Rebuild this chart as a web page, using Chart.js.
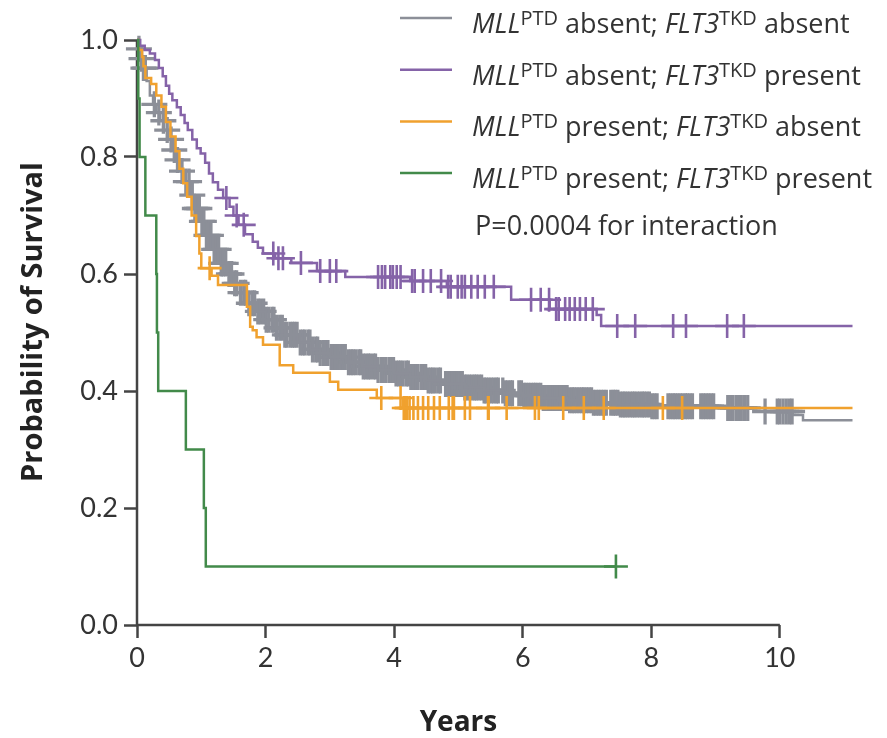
<!DOCTYPE html>
<html>
<head>
<meta charset="utf-8">
<script src="https://cdn.jsdelivr.net/npm/chart.js@4.4.1/dist/chart.umd.min.js"></script>
<style>
html,body{margin:0;padding:0;background:#fff}
#wrap{position:relative;width:887px;height:738px}
</style>
</head>
<body>
<div id="wrap"><canvas id="km" width="887" height="738"></canvas></div>
<script>
// Kaplan-Meier steps: time (years) and survival after the event
const grayT = [0,0.02,0.05,0.1,0.15,0.2,0.25,0.3,0.36,0.42,0.48,0.54,0.6,0.67,0.74,0.82,0.9,0.98,1.08,1.18,1.3,1.4,1.5,1.6,1.73,1.87,2.0,2.15,2.3,2.5,2.7,2.85,3.0,3.25,3.5,3.75,4.0,4.25,4.5,4.8,5.1,5.4,5.7,6.0,6.3,6.7,7.1,7.5,8.0,9.0,9.77,10.2,10.36,11.13];
const grayS = [1.0,0.985,0.968,0.952,0.93,0.905,0.89,0.876,0.862,0.846,0.83,0.812,0.795,0.776,0.758,0.735,0.712,0.69,0.666,0.642,0.618,0.60,0.584,0.568,0.55,0.536,0.522,0.508,0.496,0.483,0.471,0.465,0.458,0.449,0.442,0.436,0.43,0.424,0.418,0.412,0.406,0.401,0.396,0.392,0.388,0.384,0.38,0.377,0.374,0.371,0.365,0.359,0.35,0.35];
const grayCensor = [0.03,0.07,0.1,0.13,0.27,0.34,0.41,0.47,0.53,0.58,0.63,0.7,0.76,0.81,0.86,0.9,0.93,0.97,1.01,1.04,1.08,1.11,1.15,1.2,1.23,1.27,1.31,1.34,1.38,1.43,1.47,1.52,1.55,1.61,1.66,1.69,1.74,1.79,1.83,1.88,1.92,1.97,2.01,2.05,2.1,2.13,2.17,2.22,2.26,2.3,2.33,2.38,2.42,2.45,2.49,2.54,2.58,2.61,2.66,2.69,2.73,2.78,2.81,2.85,2.9,2.93,2.97,3.02,3.05,3.09,3.13,3.17,3.2,3.24,3.29,3.33,3.36,3.4,3.45,3.48,3.52,3.56,3.6,3.63,3.68,3.71,3.75,3.8,3.83,3.87,3.92,3.95,3.99,4.03,4.07,4.1,4.14,4.19,4.22,4.26,4.3,4.34,4.37,4.42,4.45,4.49,4.53,4.57,4.6,4.64,4.69,4.72,4.8,4.83,4.87,4.91,4.95,4.98,5.02,5.06,5.1,5.13,5.17,5.21,5.25,5.28,5.32,5.36,5.4,5.43,5.47,5.51,5.55,5.59,5.62,5.69,5.73,5.77,5.81,5.84,5.94,5.98,6.02,6.05,6.09,6.13,6.17,6.2,6.24,6.28,6.32,6.35,6.39,6.43,6.47,6.5,6.54,6.58,6.62,6.65,6.69,6.73,6.77,6.8,6.84,6.88,6.92,6.95,6.99,7.03,7.07,7.1,7.14,7.18,7.22,7.26,7.3,7.37,7.41,7.44,7.48,7.52,7.56,7.59,7.63,7.67,7.71,7.74,7.78,7.82,7.86,7.89,7.93,7.97,8.01,8.05,8.09,8.26,8.3,8.34,8.37,8.41,8.45,8.49,8.53,8.56,8.6,8.64,8.77,8.81,8.85,8.89,8.93,8.97,9.19,9.23,9.27,9.32,9.36,9.4,9.45,9.5,9.77,9.96,10.0,10.05,10.1,10.15,10.19];

const purpleT = [0,0.05,0.12,0.2,0.28,0.34,0.4,0.45,0.5,0.55,0.62,0.68,0.74,0.79,0.86,0.93,0.99,1.06,1.12,1.18,1.26,1.34,1.44,1.5,1.58,1.68,1.8,1.88,1.96,2.15,2.4,2.8,3.24,4.25,4.82,5.82,6.42,7.15,7.22,11.13];
const purpleS = [1.0,0.99,0.983,0.977,0.966,0.952,0.938,0.922,0.908,0.897,0.885,0.872,0.858,0.846,0.83,0.815,0.806,0.79,0.772,0.757,0.744,0.73,0.715,0.70,0.684,0.668,0.655,0.645,0.635,0.627,0.619,0.605,0.595,0.588,0.578,0.556,0.540,0.530,0.511,0.511];
const purpleCensor = [1.39,1.55,1.66,2.12,2.2,2.27,2.55,2.85,3.0,3.1,3.75,3.81,3.86,3.94,3.98,4.04,4.1,4.28,4.32,4.45,4.57,4.73,4.84,4.88,4.99,5.05,5.1,5.2,5.3,5.41,5.55,6.13,6.28,6.41,6.52,6.56,6.66,6.73,6.81,6.89,6.98,7.09,7.47,7.75,8.34,8.54,9.18,9.44];

const orangeT = [0,0.03,0.08,0.1,0.13,0.22,0.3,0.38,0.45,0.52,0.6,0.66,0.72,0.78,0.85,0.92,0.97,1.0,1.16,1.26,1.71,1.76,1.8,1.86,1.96,2.22,2.43,3.0,3.13,3.73,4.14,11.13];
const orangeS = [1.0,0.983,0.971,0.955,0.935,0.925,0.905,0.886,0.86,0.835,0.81,0.78,0.755,0.732,0.70,0.665,0.635,0.61,0.597,0.581,0.544,0.51,0.504,0.492,0.479,0.444,0.431,0.416,0.402,0.388,0.371,0.371];
const orangeCensor = [1.13,3.8,4.1,4.15,4.18,4.2,4.24,4.3,4.37,4.45,4.53,4.62,4.71,4.85,4.91,4.93,5.1,5.18,5.46,5.47,5.75,6.19,6.25,6.63,6.95,7.26,8.18,8.48];

const greenT = [0,0.02,0.04,0.13,0.30,0.31,0.33,0.76,1.04,1.07,7.45];
const greenS = [1.0,0.9,0.8,0.7,0.6,0.5,0.4,0.3,0.2,0.1,0.1];
const greenCensor = [7.45];

const xTicks = [0,2,4,6,8,10];
const yTicks = [0,0.2,0.4,0.6,0.8,1.0];

const legendRows = [
  ['MLL','PTD',' absent; ','FLT3','TKD',' absent'],
  ['MLL','PTD',' absent; ','FLT3','TKD',' present'],
  ['MLL','PTD',' present; ','FLT3','TKD',' absent'],
  ['MLL','PTD',' present; ','FLT3','TKD',' present']
];
const pNote = 'P=0.0004 for interaction';

const colors = ['rgb(140,143,152)','rgb(133,99,168)','rgb(240,161,46)','rgb(66,138,74)'];
const axisColor = '#444';
const textColor = '#333';
const fam = 'Lato, "Open Sans", sans-serif';
const famWide = '"Open Sans", Lato, sans-serif';

function steps(T,S){ return T.map((t,i)=>({x:t,y:S[i]})); }
function survAt(T,S,t){
  let v = S[0];
  for(let i=0;i<T.length;i++){ if(T[i]<=t) v=S[i]; else break; }
  return v;
}
function censor(T,S,C){ return C.map(t=>({x:t,y:survAt(T,S,t)})); }

function curve(data,color,order){
  return {data, borderColor:color, borderWidth:2.5, stepped:true, pointRadius:0, fill:false, clip:false, order};
}
function marks(data,color,order,r,w){
  return {data, showLine:false, pointStyle:'cross', pointRadius:r, pointBorderWidth:w,
    pointBorderColor:color, pointBackgroundColor:color, borderColor:color, clip:false, order};
}

const frame = {
  id:'frame',
  beforeDatasetsDraw(chart){
    const {ctx, scales:{x,y}} = chart;
    const x0 = x.getPixelForValue(0), y0 = y.getPixelForValue(0);
    ctx.save();
    ctx.strokeStyle = axisColor; ctx.lineWidth = 2.5;
    ctx.beginPath();
    ctx.moveTo(x0, y0); ctx.lineTo(x0, y.getPixelForValue(1));
    ctx.moveTo(x0-1, y0); ctx.lineTo(x.getPixelForValue(10), y0);
    ctx.stroke();
    ctx.fillStyle = '#222';
    ctx.font = 'bold 28px ' + famWide;
    ctx.textAlign = 'center'; ctx.textBaseline = 'middle';
    ctx.fillText('Years', (x0 + x.getPixelForValue(10))/2, 723);
    ctx.translate(34, 322); ctx.rotate(-Math.PI/2);
    ctx.font = 'bold 29px ' + famWide;
    ctx.fillText('Probability of Survival', 0, 0);
    ctx.restore();
  },
  afterDraw(chart){
    const ctx = chart.ctx;
    ctx.save();
    ctx.textAlign = 'left'; ctx.textBaseline = 'alphabetic';
    ctx.fillStyle = textColor;
    legendRows.forEach((row,i)=>{
      const base = 33 + i*51.7;
      ctx.strokeStyle = colors[i]; ctx.lineWidth = 2.5;
      ctx.beginPath(); ctx.moveTo(400, base-15); ctx.lineTo(452, base-15); ctx.stroke();
      let xp = 472;
      row.forEach((part,k)=>{
        let font = '27px ' + famWide, dy = 0;
        if(k===0 || k===3) font = 'italic 27px ' + famWide;
        if(k===1 || k===4){ font = '20px ' + famWide; dy = -8; }
        ctx.font = font;
        ctx.fillText(part, xp, base + dy);
        xp += ctx.measureText(part).width;
      });
    });
    ctx.font = '27px ' + famWide;
    ctx.fillText(pNote, 475, 235);
    ctx.restore();
  }
};

new Chart(document.getElementById('km'), {
  type:'line',
  data:{
    datasets:[
      curve(steps(grayT,grayS), colors[0], 4),
      marks(censor(grayT,grayS,grayCensor), colors[0], 4, 13, 3.3),
      curve(steps(purpleT,purpleS), colors[1], 1),
      marks(censor(purpleT,purpleS,purpleCensor), colors[1], 1, 12, 2.6),
      curve(steps(orangeT,orangeS), colors[2], 2),
      marks(censor(orangeT,orangeS,orangeCensor), colors[2], 2, 12, 2.6),
      curve(steps(greenT,greenS), colors[3], 0),
      marks(censor(greenT,greenS,greenCensor), colors[3], 0, 12, 2.6)
    ]
  },
  options:{
    responsive:false,
    animation:false,
    devicePixelRatio:1,
    layout:{padding:{top:40,right:30,left:0,bottom:0}},
    plugins:{legend:{display:false}, tooltip:{enabled:false}},
    scales:{
      x:{
        type:'linear', min:0, max:11.2,
        afterBuildTicks(s){ s.ticks = xTicks.map(v=>({value:v})); },
        afterFit(s){ s.height = 113; },
        border:{display:false},
        grid:{drawOnChartArea:false, drawTicks:true, tickLength:13, tickWidth:2.5, tickColor:axisColor, color:axisColor},
        ticks:{font:{family:fam, size:27}, color:textColor, padding:4, maxRotation:0, autoSkip:false}
      },
      y:{
        type:'linear', min:0, max:1,
        afterBuildTicks(s){ s.ticks = yTicks.map(v=>({value:v})); },
        afterFit(s){ s.width = 137; },
        border:{display:false},
        grid:{drawOnChartArea:false, drawTicks:true, tickLength:13, tickWidth:2.5, tickColor:axisColor, color:axisColor},
        ticks:{font:{family:fam, size:27}, color:textColor, padding:6, callback:v=>v.toFixed(1)}
      }
    }
  },
  plugins:[frame]
});
</script>
</body>
</html>
